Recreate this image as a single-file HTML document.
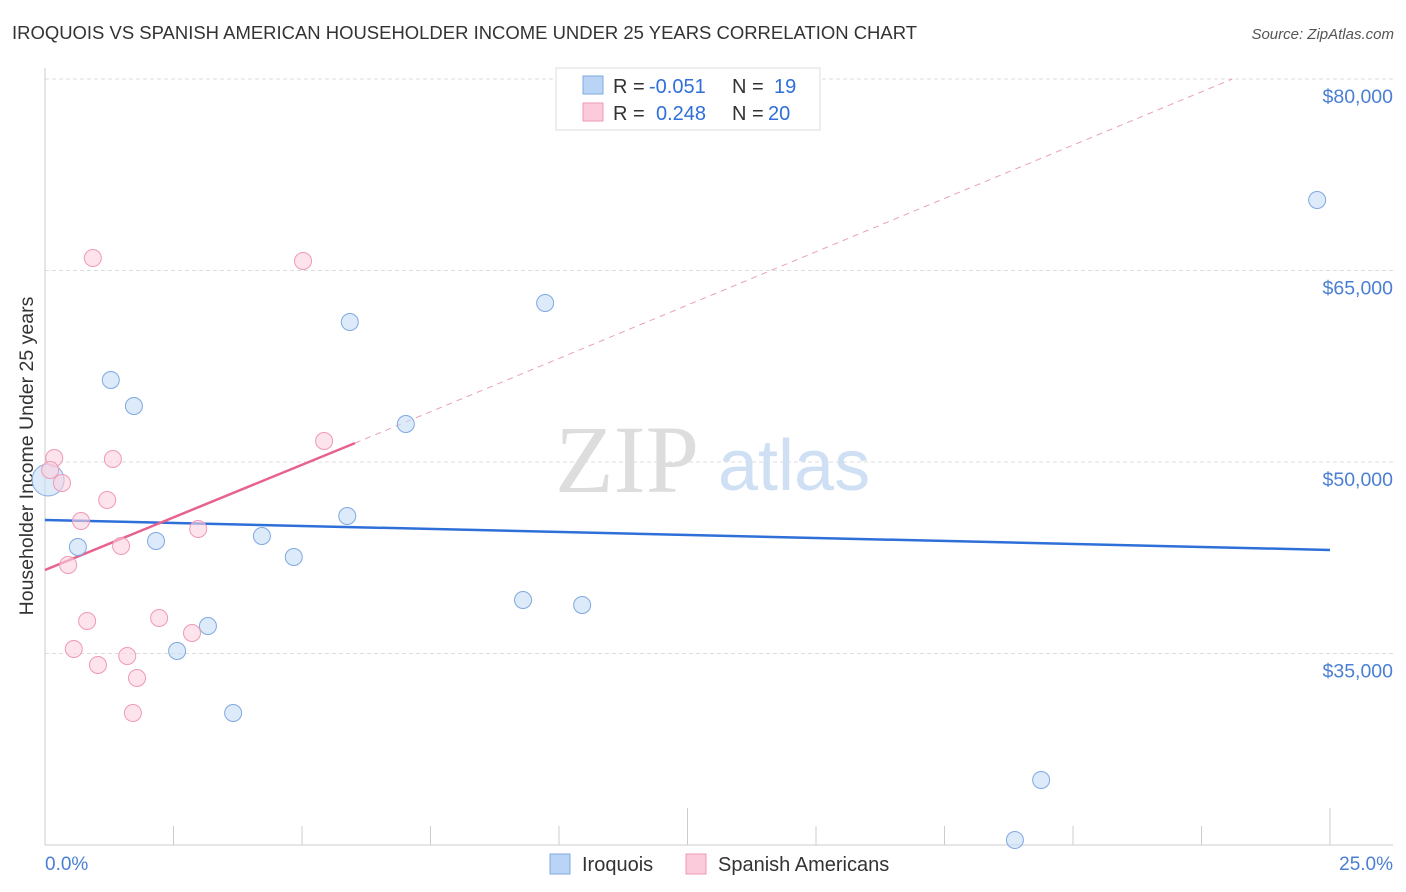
<!DOCTYPE html>
<html><head><meta charset="utf-8">
<style>
body{margin:0;background:#fff;font-family:"Liberation Sans",sans-serif;}
#wrap{position:relative;width:1406px;height:892px;overflow:hidden;}
</style></head>
<body>
<div id="wrap">
<svg id="svg" width="1406" height="892" xmlns="http://www.w3.org/2000/svg" font-family="Liberation Sans, sans-serif">
  <text x="12" y="39" font-size="18" fill="#333" textLength="905" lengthAdjust="spacingAndGlyphs">IROQUOIS VS SPANISH AMERICAN HOUSEHOLDER INCOME UNDER 25 YEARS CORRELATION CHART</text>
  <text x="1394" y="39" font-size="15" fill="#555" font-style="italic" text-anchor="end">Source: ZipAtlas.com</text>
  <text transform="translate(33,456) rotate(-90)" font-size="19.5" fill="#333" text-anchor="middle">Householder Income Under 25 years</text>
  <g id="grid"></g>
  <text x="555" y="492" font-size="96" fill="#ddd" font-family="Liberation Serif, serif">ZIP</text>
  <text x="718" y="490" font-size="72" fill="#cfe0f5">atlas</text>
  <line x1="45" y1="68" x2="45" y2="845" stroke="#ccc"/>
  <line x1="45" y1="845" x2="1393" y2="845" stroke="#ccc"/>
  <g id="ticks"></g>
  <g id="lines"></g>
  <g id="pts"></g>
  <text x="45" y="870" font-size="19" fill="#4a7fd4">0.0%</text>
  <text x="1393" y="870" font-size="19" fill="#4a7fd4" text-anchor="end">25.0%</text>
  <g>
    <rect x="556" y="68" width="264" height="62" fill="#fff" stroke="#ddd"/>
    <rect x="583" y="76" width="20" height="18" fill="#b9d4f5" stroke="#7fa9e0"/>
    <rect x="583" y="103" width="20" height="18" fill="#fbcadb" stroke="#ee9ab6"/>
    <text x="613" y="93" font-size="20" fill="#333">R = </text>
    <text x="649" y="93" font-size="20" fill="#2f6fd8">-0.051</text>
    <text x="732" y="93" font-size="20" fill="#333">N =</text>
    <text x="774" y="93" font-size="20" fill="#2f6fd8">19</text>
    <text x="613" y="120" font-size="20" fill="#333">R = </text>
    <text x="656" y="120" font-size="20" fill="#2f6fd8">0.248</text>
    <text x="732" y="120" font-size="20" fill="#333">N =</text>
    <text x="768" y="120" font-size="20" fill="#2f6fd8">20</text>
  </g>
  <g>
    <rect x="550" y="854" width="20" height="20" fill="#b9d4f5" stroke="#7fa9e0"/>
    <text x="582" y="871" font-size="20" fill="#333">Iroquois</text>
    <rect x="686" y="854" width="20" height="20" fill="#fbcadb" stroke="#ee9ab6"/>
    <text x="718" y="871" font-size="20" fill="#333">Spanish Americans</text>
  </g>
</svg>
</div>
<script>
const yTicks=[35000,50000,65000,80000];
const yTickLabels=["$35,000","$50,000","$65,000","$80,000"];
const xTicks=[0,2.5,5,7.5,10,12.5,15,17.5,20,22.5,25];
const iroX=[0.06,0.64,1.28,1.73,2.16,2.57,3.17,3.66,4.22,4.84,5.88,5.93,7.02,9.30,9.73,10.45,19.38,18.87,24.75];
const iroY=[48590,43342,56423,54387,43812,35196,37154,30339,44204,42559,45770,60966,52977,39190,62454,38799,25091,20391,70522];
const spaX=[0.18,0.10,0.33,0.45,0.56,0.70,0.82,0.93,1.03,1.21,1.32,1.48,1.60,1.71,1.79,2.22,2.86,2.98,5.02,5.43];
const spaY=[50313,49373,48355,41932,35352,45378,37545,65980,34099,47023,50235,43420,34803,30339,33081,37780,36605,44752,65745,51645];
const iroLine=[[0,45460],[25,43110]];
const spaLine=[[0,41540],[6.03,51480]];
const spaDash=[[6.03,51480],[23.1,80000]];
const NS="http://www.w3.org/2000/svg";
const xs=v=>45+v*(1330-45)/25;
const ys=v=>462-(v-50000)*191.5/15000;
function mk(tag,attrs,parent){const e=document.createElementNS(NS,tag);for(const k in attrs)e.setAttribute(k,attrs[k]);document.getElementById(parent).appendChild(e);return e;}
yTicks.forEach((t,i)=>{
  const l=mk('line',{x1:45,x2:1393,y1:ys(t),y2:ys(t),stroke:'#ddd','stroke-dasharray':'4,3'},'grid');
  
  
  const tx=mk('text',{x:1393,y:ys(t)+24,'font-size':19.5,fill:'#4a7fd4','text-anchor':'end'},'grid');
  tx.textContent=yTickLabels[i];
  
  
});
xTicks.forEach((t,i)=>{
  const top=(i===0||i===5||i===10)?808:826;
  const l=mk('line',{x1:xs(t),x2:xs(t),y1:top,y2:845,stroke:'#ccc'},'ticks');
  
  
});
function line(p,color,dash,w,name){
  const a={x1:xs(p[0][0]),y1:ys(p[0][1]),x2:xs(p[1][0]),y2:ys(p[1][1]),stroke:color,'stroke-width':w};
  if(dash)a['stroke-dasharray']=dash;
  const l=mk('line',a,'lines');
  
  
}
line(iroLine,'#2f6fd8',null,2.5,'iroquois-trend-line');
line(spaDash,'#e8a0b8','6,5',1,'spanish-trend-extension');
line(spaLine,'#e8628f',null,2.5,'spanish-trend-line');
function pts(X,Y,fill,stroke,name){
  X.forEach((x,i)=>{
    const r=(i===0&&name==='iroquois-point')?16:8.5;
    const c=mk('circle',{cx:xs(x),cy:ys(Y[i]),r:r,fill:fill,stroke:stroke,'stroke-width':1,'fill-opacity':0.6},'pts');
    
    
  });
}
pts(iroX,iroY,'#c5dcf6','#7fa9e0','iroquois-point');
pts(spaX,spaY,'#fbd0df','#ee9ab6','spanish-point');
</script>
</body></html>
